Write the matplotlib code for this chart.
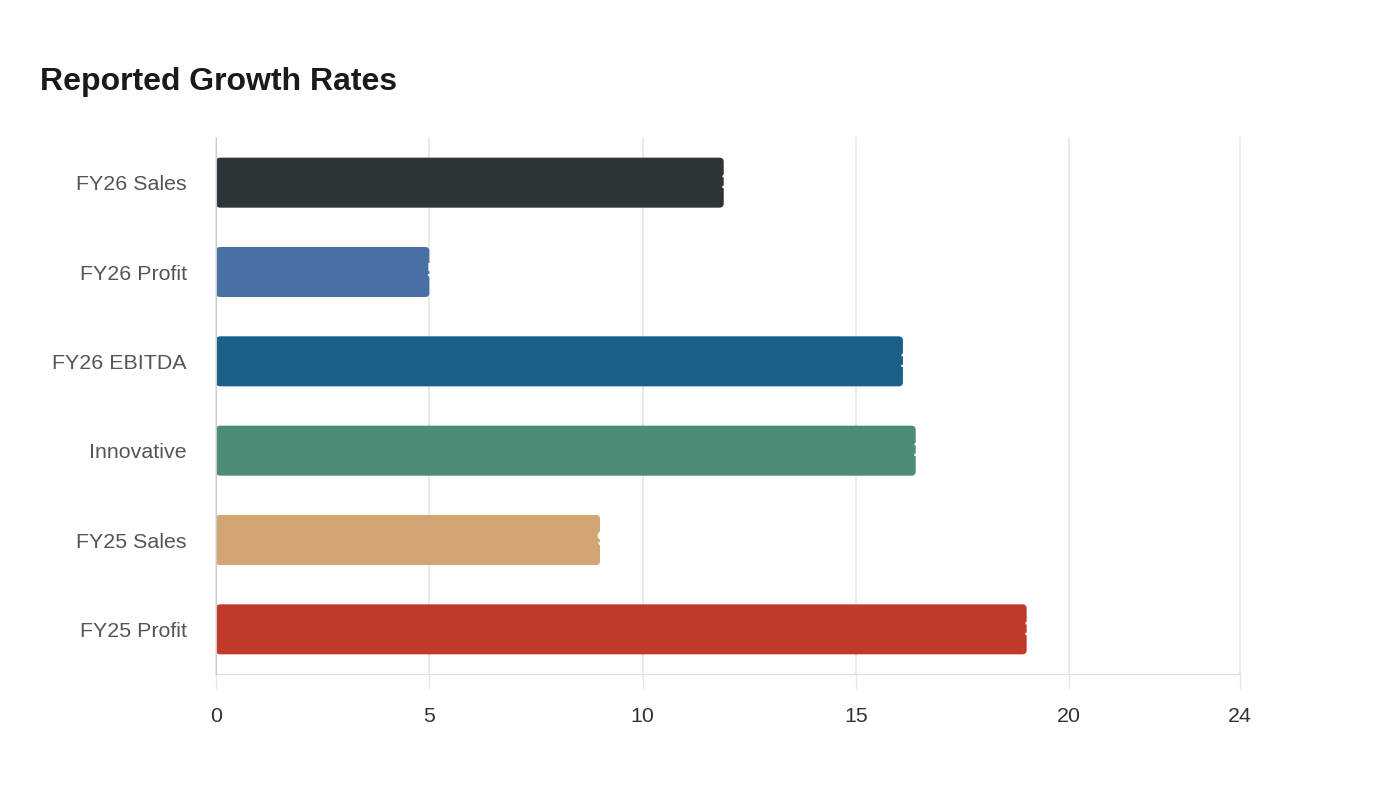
import matplotlib
matplotlib.use("Agg")
import matplotlib.pyplot as plt
from matplotlib.patches import FancyBboxPatch

plt.rcParams['font.family'] = ['Liberation Sans', 'DejaVu Sans']

#DATA
categories = ['FY26 Sales', 'FY26 Profit', 'FY26 EBITDA', 'Innovative', 'FY25 Sales', 'FY25 Profit']
values = [11.9, 5, 16.1, 16.4, 9, 19]
labels = ['11.9', '5', '16.1', '16.4', '9', '19']
colors = ['#2d3538', '#4a6fa5', '#1a6088', '#4e8c7a', '#d4a574', '#c0392b']
xticks = [0, 5, 10, 15, 20, 24]

#FIGURE
fig = plt.figure(figsize=(14, 8), dpi=100)
ax = fig.add_axes([0.1543, 0.1575, 0.7314, 0.670])

ax.set_xlim(0, 24)
ax.set_ylim(5.5, -0.5)
bar_h = 0.56

# rounded bars: corner radius ~4 px
aspect = (1 / 89.2) / (24 / 1024)
for i, (v, c) in enumerate(zip(values, colors)):
    patch = FancyBboxPatch((0, i - bar_h / 2), v, bar_h,
                           boxstyle="round,pad=0,rounding_size=0.1",
                           mutation_aspect=aspect, fc=c, ec='none', zorder=3)
    ax.add_patch(patch)
    ax.text(v - 0.08, i, labels[i], color='white', fontsize=16, fontweight='bold',
            ha='left', va='center', zorder=4)

ax.set_yticks(range(len(categories)))
ax.set_yticklabels(categories)
ax.set_xticks(xticks)
ax.tick_params(axis='y', length=0, pad=21, labelsize=15.4, labelcolor='#555555')
ax.tick_params(axis='x', length=11, width=1, color='#e6e6e6', pad=13,
               labelsize=15.4, labelcolor='#333333')

# grid drawn unclipped so the line at 24 shows fully
for t in xticks:
    ax.axvline(t, color='#e6e6e6', linewidth=1.2, zorder=0, clip_on=False)
for s in ['top', 'right']:
    ax.spines[s].set_visible(False)
ax.spines['left'].set_color('#cccccc')
ax.spines['bottom'].set_color('#e0e0e0')
ax.spines['left'].set_zorder(5)

fig.text(40 / 1400, 1 - 82 / 800, 'Reported Growth Rates', fontsize=23,
         fontweight='bold', color='#1a1a1a', ha='left', va='center')

plt.savefig('out.png', dpi=100)
